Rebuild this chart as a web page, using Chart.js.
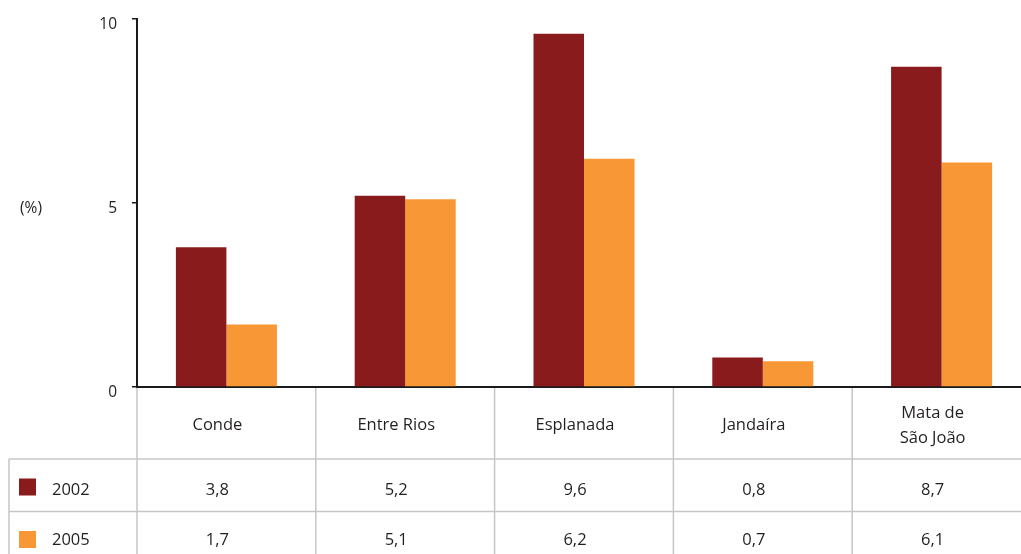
<!DOCTYPE html>
<html lang="pt-BR">
<head>
<meta charset="utf-8">
<title>Municípios, 2002 e 2005 (%)</title>
<script src="https://cdn.jsdelivr.net/npm/chart.js@4.4.1/dist/chart.umd.min.js"></script>
<style>
  html, body { margin: 0; padding: 0; background: #fff; overflow: hidden; }
  canvas { display: block; }
</style>
</head>
<body>
<canvas id="grafico" width="1031" height="554"></canvas>
<script>
const municipios = ['Conde', 'Entre Rios', 'Esplanada', 'Jandaíra', ['Mata de', 'São João']];
const anos = ['2002', '2005'];
const valores2002 = [3.8, 5.2, 9.6, 0.8, 8.7];
const valores2005 = [1.7, 5.1, 6.2, 0.7, 6.1];
const ticksY = [0, 5, 10];
const unidade = '(%)';

const corTexto = '#231f20';
const corEixo = '#1a1a1a';
const corGrade = '#c6c6c8';
const cores = ['#8a1b1d', '#f79736'];
const fonte = "'Open Sans', sans-serif";
const deslocTexto = -9;

const formata = v => v.toFixed(1).replace('.', ',');

// tabela de valores desenhada sob o eixo x, alinhada às categorias
const tabela = {
  id: 'tabela',
  afterDraw(chart) {
    const { ctx, chartArea, scales: { x } } = chart;
    const passo = x.getPixelForValue(1) - x.getPixelForValue(0);
    const series = [valores2002, valores2005];
    const topos = [459, 511.5];
    const bases = [495, 545];
    const margem = 9;

    ctx.save();
    ctx.strokeStyle = corGrade;
    ctx.lineWidth = 1.5;
    ctx.beginPath();
    municipios.forEach((m, i) => {
      const xi = x.getPixelForValue(i) - passo / 2;
      ctx.moveTo(xi, chartArea.bottom + 1);
      ctx.lineTo(xi, chart.height);
    });
    ctx.moveTo(margem, topos[0]);
    ctx.lineTo(margem, chart.height);
    topos.forEach(t => {
      ctx.moveTo(margem, t);
      ctx.lineTo(chart.width, t);
    });
    ctx.stroke();

    ctx.font = `16.5px ${fonte}`;
    ctx.textBaseline = 'alphabetic';
    series.forEach((valores, r) => {
      ctx.fillStyle = cores[r];
      ctx.fillRect(19, topos[r] + 19.5, 17, 17);
      ctx.fillStyle = corTexto;
      ctx.textAlign = 'left';
      ctx.fillText(anos[r], 52, bases[r]);
      ctx.textAlign = 'center';
      valores.forEach((v, i) => {
        ctx.fillText(formata(v), x.getPixelForValue(i) + deslocTexto, bases[r]);
      });
    });

    ctx.font = `15.5px ${fonte}`;
    ctx.textAlign = 'left';
    ctx.textBaseline = 'middle';
    ctx.fillText(unidade, 20, 209);
    ctx.restore();
  }
};

function desenhar() {
  new Chart(document.getElementById('grafico'), {
    type: 'bar',
    data: {
      labels: municipios,
      datasets: [valores2002, valores2005].map((valores, i) => ({
        label: anos[i],
        data: valores,
        backgroundColor: cores[i],
        barPercentage: 1,
        categoryPercentage: 0.565
      }))
    },
    options: {
      responsive: false,
      animation: false,
      devicePixelRatio: 1,
      layout: { padding: { top: 19, right: 0, bottom: 0, left: 0 } },
      plugins: { legend: { display: false }, tooltip: { enabled: false } },
      scales: {
        x: {
          z: 1,
          grid: { display: false, drawTicks: false },
          border: { color: corEixo, width: 2 },
          ticks: {
            color: corTexto,
            font: { family: fonte, size: 16.5, lineHeight: '25px' },
            padding: 26,
            labelOffset: deslocTexto,
            crossAlign: 'center',
            maxRotation: 0,
            autoSkip: false
          },
          afterFit: s => { s.height = 167; }
        },
        y: {
          z: 1,
          min: 0,
          max: 10,
          grid: { drawOnChartArea: false, drawTicks: true, tickLength: 5, color: corEixo, lineWidth: 1.5 },
          border: { color: corEixo, width: 2 },
          ticks: {
            color: corTexto,
            font: { family: fonte, size: 15.5 },
            padding: 15,
            labelOffset: 6
          },
          afterBuildTicks: s => { s.ticks = ticksY.map(v => ({ value: v })); },
          afterFit: s => {
            s.width = 137;
            s.paddingTop = 0;
            s.paddingBottom = 0;
          }
        }
      }
    },
    plugins: [tabela]
  });
}

document.fonts.load(`16px ${fonte}`).then(desenhar, desenhar);
</script>
</body>
</html>
